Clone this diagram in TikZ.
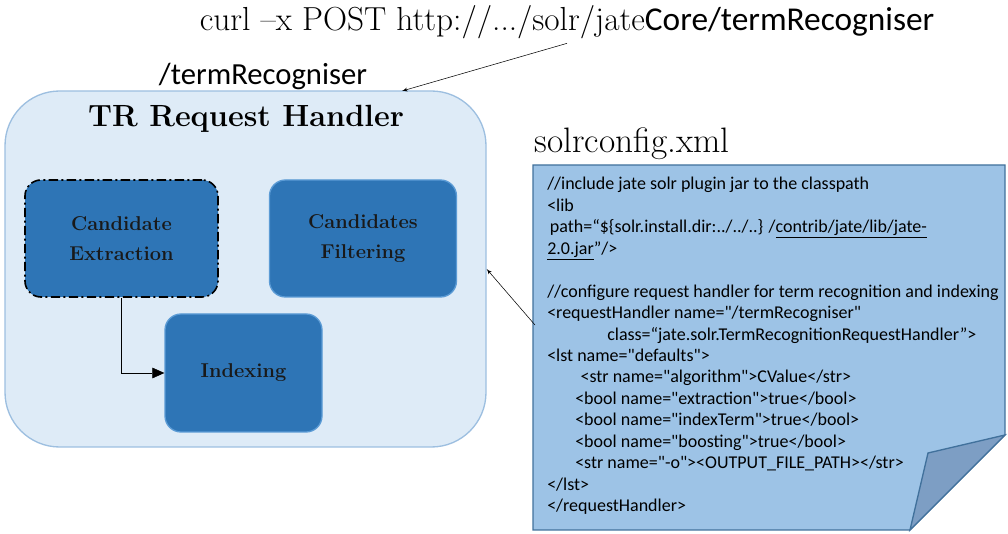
\documentclass[tikz,border=0pt]{standalone}
\usepackage{fontspec}
\newfontfamily\calibri{Carlito}[Ligatures=TeXOff]
\usetikzlibrary{shapes,arrows,arrows.meta,positioning}
\definecolor{handlerfill}{HTML}{DEEBF7}
\definecolor{handlerline}{HTML}{9DBFE0}
\definecolor{stagefill}{HTML}{2E75B6}
\definecolor{stageline}{HTML}{5B9BD5}
\definecolor{conffill}{HTML}{9DC3E6}
\definecolor{confline}{HTML}{41719C}
\definecolor{foldfill}{HTML}{7D9EC4}
\tikzstyle{line} = [draw, -latex']
\tikzstyle{handler} = [rectangle, draw=handlerline, line width=1pt, fill=handlerfill, rounded corners=41pt]
\tikzstyle{stage} = [rectangle, draw=stageline, line width=1pt, fill=stagefill, rounded corners=12pt, text=black!90, align=center, font=\fontsize{15}{22}\selectfont\bfseries]
\tikzstyle{conftext} = [anchor=north west, align=left, inner sep=0pt, font=\calibri\fontsize{13.5}{16.1}\selectfont]

\begin{document}
\begin{tikzpicture}[x=0.75pt, y=-0.75pt]
		\useasboundingbox (0,0) rectangle (1008,534);
		% request handler
		\node [handler, minimum width=360.75pt, minimum height=267pt] (handler) at (245.5,269) {};
		\node [font=\fontsize{23}{23}\selectfont\bfseries] (title) at (246,119) {TR Request Handler};
		\node [font=\calibri\fontsize{23}{23}\selectfont] (route) at (263,76) {/termRecogniser};
		\node [font=\fontsize{25}{25}\selectfont] (curl) at (567,22) {curl –x POST http://.../solr/jate{\calibri Core/termRecogniser}};
		
		\node [stage, draw=black, line width=1.2pt, dash pattern=on 7pt off 2.5pt on 1.5pt off 2.5pt, minimum width=144.75pt, minimum height=87.75pt] (extract) at (121.5,238.5) {Candidate\\Extraction};
		\node [stage, right=37.5pt of extract, minimum width=140.25pt, minimum height=87.75pt] (filter) {Candidates\\Filtering};
		\node [stage, minimum width=117.75pt, minimum height=88.5pt] (index) at (243.5,373) {Indexing};
		
		% solrconfig.xml
		\node [font=\fontsize{26.5}{26.5}\selectfont, anchor=south west] (confname) at (530,164) {solrconfig.xml};
		\draw [draw=confline, line width=1pt, fill=conffill] (533,165) -- (1005,165) -- (1005,435) -- (910,530) -- (533,530) -- cycle;
		\draw [draw=confline, line width=1pt, fill=foldfill] (1005,435) -- (928,453) -- (910,530) -- cycle;
		\node [conftext] (conf) at (547,177) {//include jate solr plugin jar to the classpath\\
			<lib\\
			\hspace*{2pt}path=“\$\{solr.install.dir:../../..\} /\underline{contrib/jate/lib/jate-}\\
			\underline{2.0.jar}”/>\\
			\mbox{}\\
			//configure request handler for term recognition and indexing\\
			<requestHandler name="/termRecogniser"\\
			\hspace*{45pt}class=“jate.solr.TermRecognitionRequestHandler”>\\
			<lst name="defaults">\\
			\hspace*{25pt}<str name="algorithm">CValue</str>\\
			\hspace*{21pt}<bool name="extraction">true</bool>\\
			\hspace*{21pt}<bool name="indexTerm">true</bool>\\
			\hspace*{21pt}<bool name="boosting">true</bool>\\
			\hspace*{21pt}<str name="-o"><OUTPUT\_FILE\_PATH></str>\\
			</lst>\\
			</requestHandler>};
		
		\coordinate (confout) at (535,325);
		\coordinate (routein) at (402,91);
		\path [line] (curl.south) to (routein);
		\path [line] (confout) to (handler.east);
		\path [draw, -{Triangle[length=9pt, width=8pt]}] (extract.south) |- (index.west);
		
	\end{tikzpicture}
\end{document}
